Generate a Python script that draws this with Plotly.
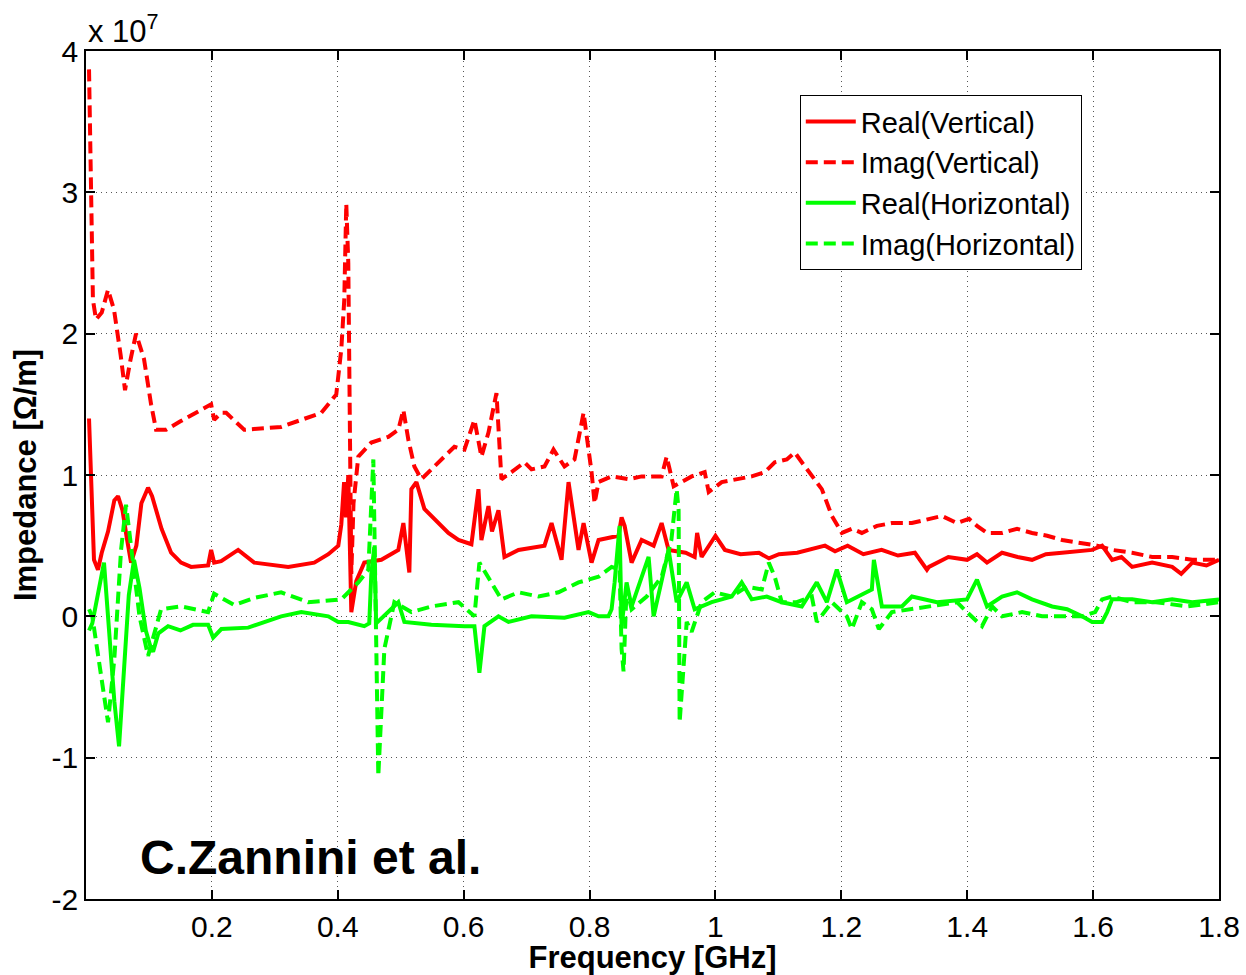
import plotly.graph_objects as go

# Frequency in GHz, impedance in units of 1e7 Ohm/m
rv_x = [0.0048, 0.008, 0.0127, 0.019, 0.025, 0.035, 0.045, 0.0509, 0.058, 0.065, 0.0716, 0.080, 0.088, 0.0986, 0.105, 0.120, 0.1352, 0.151, 0.167, 0.194, 0.1988, 0.2036, 0.2147, 0.2417, 0.2672, 0.3213, 0.3626, 0.385, 0.4008, 0.4056, 0.410, 0.413, 0.4167, 0.4215, 0.4294, 0.4421, 0.4692, 0.4962, 0.5042, 0.5137, 0.5169, 0.5249, 0.5376, 0.5757, 0.5917, 0.6123, 0.6235, 0.6282, 0.6394, 0.645, 0.6553, 0.6648, 0.6871, 0.7284, 0.7396, 0.7555, 0.7666, 0.7825, 0.7905, 0.8032, 0.8143, 0.846, 0.8509, 0.8557, 0.8668, 0.8827, 0.9018, 0.9145, 0.9256, 0.9526, 0.967, 0.9709, 0.978, 1.0, 1.015, 1.04, 1.069, 1.085, 1.101, 1.13, 1.174, 1.19, 1.21, 1.235, 1.264, 1.29, 1.3169, 1.336, 1.3392, 1.37, 1.3999, 1.4155, 1.4314, 1.4553, 1.48, 1.503, 1.525, 1.5507, 1.5984, 1.6143, 1.6302, 1.645, 1.662, 1.6938, 1.7256, 1.74, 1.7575, 1.78, 1.8]
rv_y = [1.40, 0.90, 0.40, 0.33, 0.45, 0.60, 0.82, 0.85, 0.75, 0.55, 0.38, 0.50, 0.80, 0.91, 0.85, 0.62, 0.45, 0.38, 0.35, 0.36, 0.47, 0.38, 0.39, 0.47, 0.38, 0.35, 0.38, 0.44, 0.50, 0.65, 0.95, 0.70, 1.00, 0.03, 0.25, 0.38, 0.40, 0.47, 0.66, 0.31, 0.90, 0.95, 0.76, 0.59, 0.54, 0.51, 0.90, 0.54, 0.78, 0.60, 0.75, 0.42, 0.47, 0.50, 0.66, 0.40, 0.95, 0.47, 0.66, 0.38, 0.54, 0.57, 0.70, 0.64, 0.38, 0.54, 0.50, 0.66, 0.47, 0.45, 0.42, 0.59, 0.42, 0.57, 0.47, 0.44, 0.45, 0.41, 0.44, 0.45, 0.50, 0.46, 0.50, 0.44, 0.47, 0.43, 0.45, 0.33, 0.35, 0.42, 0.40, 0.44, 0.38, 0.45, 0.42, 0.40, 0.44, 0.45, 0.47, 0.50, 0.40, 0.42, 0.35, 0.38, 0.35, 0.30, 0.38, 0.36, 0.40]

iv_x = [0.0048, 0.008, 0.011, 0.0159, 0.025, 0.035, 0.0445, 0.055, 0.062, 0.070, 0.0795, 0.0922, 0.1034, 0.1113, 0.1272, 0.150, 0.183, 0.1988, 0.2036, 0.2147, 0.2227, 0.2513, 0.31, 0.3738, 0.3976, 0.4056, 0.4103, 0.4135, 0.4167, 0.4215, 0.425, 0.4326, 0.4533, 0.4803, 0.4962, 0.5042, 0.5121, 0.5217, 0.5328, 0.5487, 0.5646, 0.5853, 0.6012, 0.6171, 0.6282, 0.6394, 0.6521, 0.660, 0.676, 0.6966, 0.7078, 0.7284, 0.7427, 0.7602, 0.7761, 0.7905, 0.8032, 0.808, 0.8143, 0.835, 0.862, 0.8827, 0.9145, 0.9225, 0.9336, 0.9622, 0.9829, 0.9893, 1.01, 1.0576, 1.0783, 1.0942, 1.1133, 1.126, 1.1372, 1.1531, 1.169, 1.185, 1.2008, 1.2167, 1.2326, 1.2565, 1.2803, 1.3121, 1.3439, 1.3598, 1.3837, 1.4028, 1.4155, 1.4314, 1.4553, 1.4791, 1.503, 1.527, 1.5507, 1.5825, 1.6064, 1.6302, 1.662, 1.6938, 1.7256, 1.7575, 1.8]
iv_y = [3.87, 3.00, 2.24, 2.10, 2.15, 2.31, 2.17, 1.85, 1.60, 1.80, 2.00, 1.82, 1.50, 1.32, 1.32, 1.38, 1.46, 1.50, 1.39, 1.44, 1.44, 1.32, 1.34, 1.44, 1.57, 1.89, 2.24, 2.92, 2.50, 0.30, 0.80, 1.13, 1.23, 1.27, 1.32, 1.46, 1.25, 1.06, 0.97, 1.04, 1.11, 1.20, 1.18, 1.39, 1.13, 1.30, 1.58, 0.97, 1.02, 1.09, 1.04, 1.06, 1.18, 1.06, 1.11, 1.44, 1.02, 0.80, 0.95, 0.99, 0.97, 0.99, 0.99, 1.13, 0.92, 0.99, 1.02, 0.88, 0.95, 0.99, 1.02, 1.09, 1.11, 1.16, 1.09, 0.99, 0.90, 0.71, 0.59, 0.62, 0.59, 0.64, 0.66, 0.66, 0.69, 0.71, 0.66, 0.69, 0.64, 0.59, 0.59, 0.62, 0.59, 0.57, 0.54, 0.52, 0.50, 0.47, 0.45, 0.42, 0.42, 0.40, 0.40]

rh_x = [0.0048, 0.010, 0.0286, 0.035, 0.045, 0.0525, 0.060, 0.068, 0.0763, 0.085, 0.095, 0.1034, 0.1066, 0.115, 0.1304, 0.150, 0.170, 0.194, 0.202, 0.215, 0.2577, 0.310, 0.342, 0.385, 0.4008, 0.4167, 0.4421, 0.450, 0.4533, 0.458, 0.461, 0.4962, 0.5058, 0.5487, 0.6012, 0.6171, 0.625, 0.633, 0.6553, 0.6712, 0.7078, 0.7602, 0.7984, 0.8143, 0.830, 0.835, 0.8398, 0.8477, 0.8509, 0.8588, 0.8668, 0.8827, 0.8938, 0.9018, 0.9145, 0.9256, 0.9384, 0.9543, 0.967, 0.994, 1.0258, 1.0417, 1.0576, 1.0815, 1.1054, 1.1372, 1.161, 1.177, 1.1928, 1.2087, 1.2485, 1.2517, 1.2644, 1.2962, 1.3121, 1.3519, 1.3996, 1.4155, 1.4314, 1.4553, 1.4791, 1.503, 1.5348, 1.5586, 1.5825, 1.5984, 1.6143, 1.6223, 1.6302, 1.662, 1.6938, 1.7256, 1.7575, 1.8]
rh_y = [-0.10, -0.05, 0.38, 0.00, -0.60, -0.92, -0.40, 0.15, 0.40, 0.20, -0.10, -0.23, -0.25, -0.12, -0.07, -0.10, -0.06, -0.06, -0.15, -0.09, -0.08, 0.00, 0.03, 0.00, -0.04, -0.04, -0.07, -0.05, 0.30, 0.49, -0.05, 0.10, -0.04, -0.06, -0.07, -0.07, -0.40, -0.07, 0.00, -0.04, 0.00, -0.01, 0.03, 0.00, 0.00, 0.05, 0.24, 0.64, -0.07, 0.24, 0.07, 0.28, 0.42, 0.00, 0.24, 0.47, 0.10, 0.24, 0.05, 0.10, 0.14, 0.24, 0.12, 0.14, 0.10, 0.07, 0.24, 0.10, 0.33, 0.10, 0.19, 0.40, 0.07, 0.07, 0.14, 0.10, 0.12, 0.26, 0.07, 0.14, 0.17, 0.12, 0.07, 0.05, 0.00, -0.04, -0.04, 0.03, 0.12, 0.12, 0.10, 0.12, 0.10, 0.12]

ih_x = [0.0048, 0.010, 0.020, 0.035, 0.045, 0.0557, 0.0636, 0.072, 0.085, 0.0986, 0.110, 0.1193, 0.151, 0.194, 0.2036, 0.2354, 0.2672, 0.310, 0.353, 0.4056, 0.4326, 0.4485, 0.4565, 0.4644, 0.474, 0.4899, 0.5169, 0.5487, 0.5917, 0.6171, 0.625, 0.6441, 0.660, 0.6871, 0.7189, 0.7507, 0.7825, 0.8143, 0.835, 0.8477, 0.8509, 0.854, 0.8588, 0.8668, 0.8907, 0.9145, 0.930, 0.9384, 0.9415, 0.9431, 0.9543, 0.9622, 0.978, 0.9988, 1.0258, 1.0497, 1.0736, 1.0847, 1.0942, 1.1054, 1.1292, 1.1531, 1.161, 1.185, 1.2087, 1.2167, 1.2326, 1.2485, 1.2596, 1.2803, 1.3121, 1.344, 1.3837, 1.3996, 1.4235, 1.4394, 1.4553, 1.4871, 1.519, 1.5507, 1.5825, 1.6032, 1.6143, 1.6302, 1.662, 1.70, 1.75, 1.8]
ih_y = [0.05, 0.00, -0.30, -0.75, -0.30, 0.47, 0.79, 0.50, 0.00, -0.28, -0.10, 0.05, 0.07, 0.03, 0.16, 0.08, 0.13, 0.17, 0.10, 0.12, 0.24, 0.33, 1.11, -1.13, -0.23, 0.10, 0.03, 0.07, 0.10, 0.00, 0.38, 0.24, 0.12, 0.17, 0.14, 0.17, 0.24, 0.28, 0.35, 0.33, -0.23, -0.39, 0.20, 0.05, 0.14, 0.28, 0.54, 0.90, 0.75, -0.75, -0.04, -0.11, 0.10, 0.17, 0.14, 0.21, 0.19, 0.38, 0.28, 0.10, 0.10, 0.14, -0.04, 0.10, 0.00, -0.09, 0.10, 0.05, -0.09, 0.03, 0.05, 0.07, 0.10, 0.03, -0.07, 0.07, 0.00, 0.03, 0.00, 0.00, 0.00, 0.03, 0.12, 0.14, 0.10, 0.10, 0.07, 0.10]

x_ticks = [0.2, 0.4, 0.6, 0.8, 1.0, 1.2, 1.4, 1.6, 1.8]
x_ticktext = ["0.2", "0.4", "0.6", "0.8", "1", "1.2", "1.4", "1.6", "1.8"]
y_ticks = [-2, -1, 0, 1, 2, 3, 4]
y_ticktext = ["-2", "-1", "0", "1", "2", "3", "4"]

RED = "#ff0000"
GREEN = "#00ff00"
DASH = "12px,6px"
FONT = "Liberation Sans, Arial, sans-serif"

fig = go.Figure()
fig.add_trace(go.Scatter(x=rv_x, y=rv_y, mode="lines", name="Real(Vertical)",
                         line=dict(color=RED, width=4)))
fig.add_trace(go.Scatter(x=iv_x, y=iv_y, mode="lines", name="Imag(Vertical)",
                         line=dict(color=RED, width=4, dash=DASH)))
fig.add_trace(go.Scatter(x=rh_x, y=rh_y, mode="lines", name="Real(Horizontal)",
                         line=dict(color=GREEN, width=4)))
fig.add_trace(go.Scatter(x=ih_x, y=ih_y, mode="lines", name="Imag(Horizontal)",
                         line=dict(color=GREEN, width=4, dash=DASH)))

axis_common = dict(
    showline=True, linecolor="black", linewidth=1.5, mirror="ticks",
    ticks="inside", ticklen=9, tickcolor="black", tickwidth=1.5,
    showgrid=True, gridcolor="#555555", griddash="1px,4px", gridwidth=1,
    zeroline=False, automargin=False,
    tickfont=dict(family=FONT, size=30, color="black"),
)

fig.update_layout(
    width=1246, height=975,
    margin=dict(l=86, r=27, t=51, b=76),
    paper_bgcolor="white", plot_bgcolor="white",
    font=dict(family=FONT, color="black"),
    xaxis=dict(range=[0, 1.8], tickvals=x_ticks, ticktext=x_ticktext,
               title=dict(text="<b>Frequency [GHz]</b>", font=dict(family=FONT, size=31), standoff=0),
               **axis_common),
    yaxis=dict(range=[-2, 4], tickvals=y_ticks, ticktext=y_ticktext,
               title=dict(text="<b>Impedance [Ω/m]</b>", font=dict(family=FONT, size=31), standoff=6),
               **axis_common),
    legend=dict(x=0.63, y=0.948, xanchor="left", yanchor="top",
                bgcolor="white", bordercolor="black", borderwidth=1,
                font=dict(family=FONT, size=29, color="black"),
                itemwidth=50, tracegroupgap=0),
    showlegend=True,
)

fig.add_annotation(xref="paper", yref="paper", x=0, y=1.0, xanchor="left", yanchor="bottom",
                   text="x 10<sup>7</sup>", showarrow=False,
                   font=dict(family=FONT, size=31, color="black"))
fig.add_annotation(xref="paper", yref="paper", x=0.046, y=0.049, xanchor="left", yanchor="middle",
                   text="<b>C.Zannini et al.</b>", showarrow=False,
                   font=dict(family=FONT, size=48, color="black"))

fig.write_html("out.html")
